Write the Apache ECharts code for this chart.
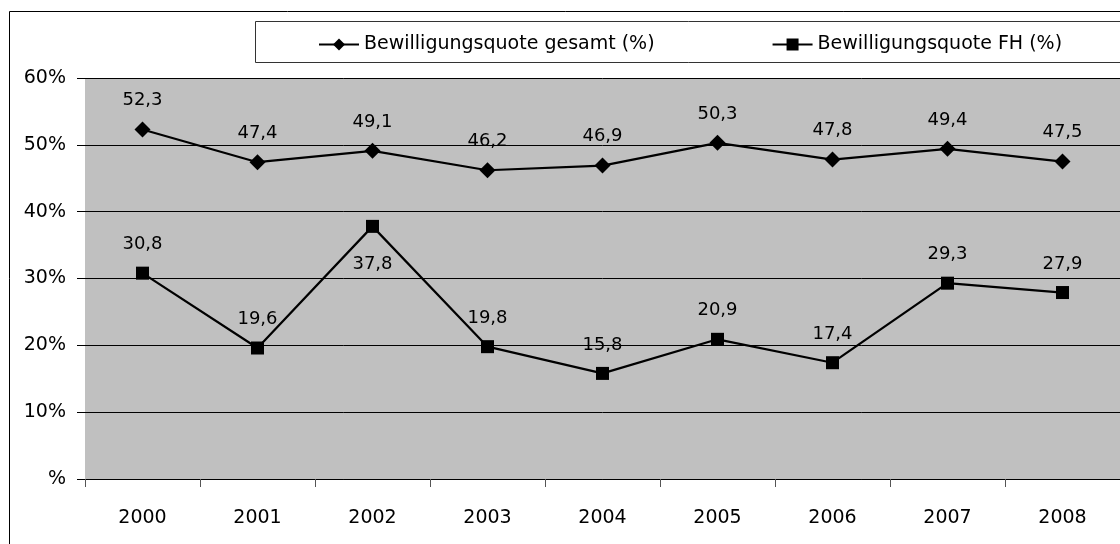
<!DOCTYPE html>
<html><head><meta charset="utf-8">
<script src="https://cdn.jsdelivr.net/npm/echarts@6/dist/echarts.min.js"></script>
<style>html,body{margin:0;padding:0;background:#fff}#c{width:1120px;height:544px}</style>
</head><body><div id="c"></div>
<script>
const categories = ['2000','2001','2002','2003','2004','2005','2006','2007','2008'];
const gesamt = [52.3, 47.4, 49.1, 46.2, 46.9, 50.3, 47.8, 49.4, 47.5];
const fh = [30.8, 19.6, 37.8, 19.8, 15.8, 20.9, 17.4, 29.3, 27.9];
const fhLabelPos = ['top','top','bottom','top','top','top','top','top','top'];
const yTicks = [0, 10, 20, 30, 40, 50, 60];
const seriesNames = ['Bewilligungsquote gesamt (%)', 'Bewilligungsquote FH (%)'];

const FONT = 'DejaVu Sans';
const fmt = v => String(v).replace('.', ',');
const chart = echarts.init(document.getElementById('c'));
chart.setOption({
  animation: false,
  textStyle: { fontFamily: FONT, color: '#000' },
  graphic: [
    { type: 'rect', shape: { x: 9.5, y: 11.5, width: 1130, height: 560 }, style: { fill: 'none', stroke: '#000', lineWidth: 1 }, z: 0 },
    { type: 'rect', shape: { x: 255.5, y: 21.5, width: 900, height: 41 }, style: { fill: '#fff', stroke: '#333', lineWidth: 1 }, z: 0 }
  ],
  legend: {
    left: 313, top: 30, itemWidth: 40, itemHeight: 15, itemGap: 117,
    textStyle: { fontFamily: FONT, fontSize: 19, color: '#000' },
    data: seriesNames
  },
  grid: { left: 85, right: -2, top: 78, bottom: 65 },
  xAxis: {
    type: 'category', data: categories, boundaryGap: true,
    axisLine: { lineStyle: { color: '#000', width: 1 } },
    axisTick: { show: true, length: 8, lineStyle: { color: '#555' } },
    axisLabel: { fontFamily: FONT, fontSize: 19, color: '#000', margin: 30 }
  },
  yAxis: {
    type: 'value', min: 0, max: 60, interval: 10,
    axisLine: { show: false },
    axisTick: { show: true, length: 8, lineStyle: { color: '#000' } },
    axisLabel: { fontFamily: FONT, fontSize: 19, color: '#000', margin: 19,
      formatter: v => v === 0 ? '%' : v + '%' },
    splitLine: { lineStyle: { color: '#000', width: 1 } },
    splitArea: { show: true, areaStyle: { color: ['#c0c0c0'] } }
  },
  series: [
    { name: seriesNames[0], type: 'line', data: gesamt, symbol: 'diamond', symbolSize: 16,
      lineStyle: { color: '#000', width: 2.2 }, itemStyle: { color: '#000' },
      label: { show: true, position: 'top', distance: 12, fontFamily: FONT, fontSize: 18, color: '#000',
        formatter: p => fmt(p.value) } },
    { name: seriesNames[1], type: 'line', data: fh.map((v, i) => ({ value: v, label: { position: fhLabelPos[i], distance: fhLabelPos[i] === 'bottom' ? 22 : 13 } })),
      symbol: 'rect', symbolSize: 13,
      lineStyle: { color: '#000', width: 2.2 }, itemStyle: { color: '#000' },
      label: { show: true, fontFamily: FONT, fontSize: 18, color: '#000',
        formatter: p => fmt(p.value) } }
  ]
});
</script></body></html>
